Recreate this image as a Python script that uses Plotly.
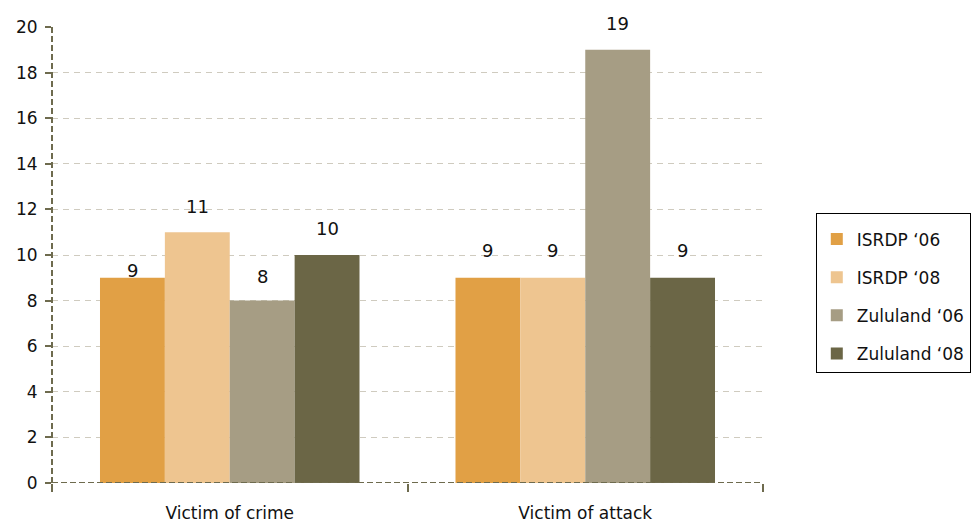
import plotly.graph_objects as go

# Survey results (%) by category and series
categories = ["Victim of crime", "Victim of attack"]
series_names = ["ISRDP \u201806", "ISRDP \u201808", "Zululand \u201806", "Zululand \u201808"]
isrdp_06 = [9, 9]
isrdp_08 = [11, 9]
zululand_06 = [8, 19]
zululand_08 = [10, 9]
series_values = [isrdp_06, isrdp_08, zululand_06, zululand_08]
y_ticks = [0, 2, 4, 6, 8, 10, 12, 14, 16, 18, 20]

colors = ["#E1A045", "#EEC590", "#A69D84", "#6B6646"]
axis_color = "#6E6B4E"
grid_color = "#CFCBBF"
font_family = "DejaVu Sans, Verdana, sans-serif"

W, H = 977, 524
margin = dict(l=52, r=214, t=27, b=41)
bargap = 0.27

fig = go.Figure()
for i, (name, vals) in enumerate(zip(series_names, series_values)):
    fig.add_trace(go.Bar(
        x=categories, y=vals, name=name,
        marker=dict(color=colors[i], line=dict(width=0)),
        legendgroup=name,
    ))

# value labels above each bar, offset horizontally to the bar centre
plot_w = W - margin["l"] - margin["r"]
cat_w = plot_w / len(categories)
bar_w = cat_w * (1 - bargap) / len(series_names)
label_lift = [[7, 27], [26, 27], [24, 26], [27, 27]]
for i, vals in enumerate(series_values):
    off = (i - (len(series_names) - 1) / 2) * bar_w
    for j, v in enumerate(vals):
        fig.add_annotation(
            x=categories[j], y=v, text=str(v), showarrow=False,
            xshift=off, yshift=label_lift[i][j], yanchor="middle",
            font=dict(size=18, color="#111111", family=font_family),
        )

# dashed axis lines
fig.add_shape(type="line", xref="paper", yref="y", x0=0, x1=1, y0=0, y1=0,
              line=dict(color=axis_color, width=2, dash="6px,3px"), layer="above")
fig.add_shape(type="line", xref="paper", yref="paper", x0=0, x1=0, y0=0, y1=1,
              line=dict(color=axis_color, width=2, dash="6px,3px"), layer="above")

fig.update_layout(
    width=W, height=H, margin=margin,
    paper_bgcolor="white", plot_bgcolor="white",
    barmode="group", bargap=bargap, bargroupgap=0,
    font=dict(family=font_family, size=16, color="#111111"),
    showlegend=True,
    legend=dict(
        xref="container", yref="container",
        x=0.835, y=0.594, xanchor="left", yanchor="top",
        bordercolor="#000000", borderwidth=1, bgcolor="white",
        font=dict(size=17, color="#111111", family=font_family),
        tracegroupgap=13, traceorder="grouped",
        itemwidth=30,
        title=dict(text=" ", font=dict(size=6)),
    ),
    xaxis=dict(
        type="category", showgrid=False, showline=False, zeroline=False,
        ticks="outside", tickson="boundaries", ticklen=8, tickwidth=1.5,
        tickcolor=axis_color, tickfont=dict(size=17),
        ticklabelstandoff=18, automargin=False,
    ),
    yaxis=dict(
        range=[0, 20], tickvals=y_ticks, ticktext=[str(t) for t in y_ticks],
        showgrid=True, gridcolor=grid_color, griddash="6px,5px", gridwidth=1,
        showline=False, zeroline=False,
        ticks="outside", ticklen=6, tickwidth=1.5, tickcolor=axis_color,
        tickfont=dict(size=17), ticklabelstandoff=4, automargin=False,
    ),
)

fig.write_html("out.html")
